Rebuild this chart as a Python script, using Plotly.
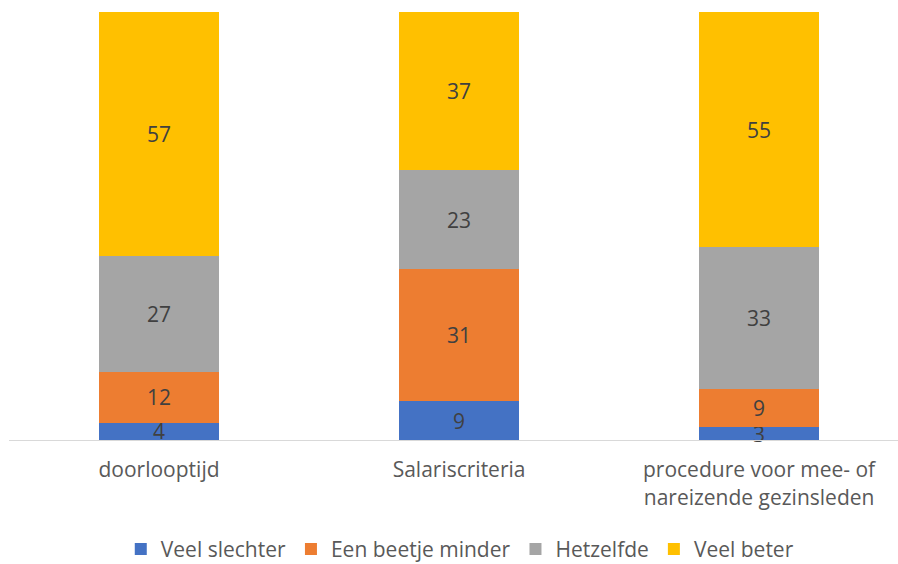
import plotly.graph_objects as go

categories = ["doorlooptijd", "Salariscriteria", "procedure voor mee- of<br>nareizende gezinsleden"]
series_names = ["Veel slechter", "Een beetje minder", "Hetzelfde", "Veel beter"]
veel_slechter = [4, 9, 3]
een_beetje_minder = [12, 31, 9]
hetzelfde = [27, 23, 33]
veel_beter = [57, 37, 55]
colors = ["#4472C4", "#ED7D31", "#A5A5A5", "#FFC000"]

FONT = "Open Sans, sans-serif"
FS = 21

fig = go.Figure()
for name, vals, col in zip(series_names, [veel_slechter, een_beetje_minder, hetzelfde, veel_beter], colors):
    fig.add_trace(go.Bar(
        x=categories, y=vals, name=name, marker=dict(color=col, line=dict(width=0)),
        text=[str(v) for v in vals], textposition="inside", insidetextanchor="middle",
        textangle=0, constraintext="none",
        textfont=dict(color="#404040", size=FS, family=FONT),
        width=0.4, cliponaxis=False,
    ))

fig.update_layout(
    barmode="stack",
    width=898, height=564,
    margin=dict(l=9, r=0, t=12, b=123.5, autoexpand=False),
    paper_bgcolor="white", plot_bgcolor="white",
    font=dict(family=FONT, color="#595959", size=FS),
    uniformtext=dict(mode="show", minsize=FS),
    showlegend=True,
    legend=dict(orientation="h", x=0.512, xanchor="center", xref="container",
                y=-0.2555, yanchor="middle", yref="paper",
                traceorder="normal", font=dict(size=FS, color="#595959", family=FONT),
                itemwidth=30, bgcolor="rgba(0,0,0,0)"),
    xaxis=dict(range=[-0.5, 2.463], showgrid=False, showline=True, linecolor="#D9D9D9",
               linewidth=1, ticks="", automargin=False,
               tickfont=dict(size=FS, color="#595959", family=FONT), ticklabelstandoff=11),
    yaxis=dict(range=[0, 100], visible=False, automargin=False),
)

fig.write_html("out.html")
